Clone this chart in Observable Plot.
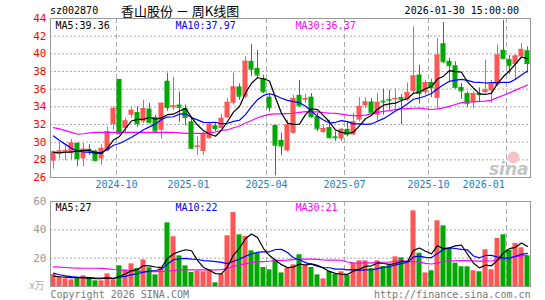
<!DOCTYPE html>
<html><head><meta charset="utf-8">
<script src="https://cdn.jsdelivr.net/npm/d3@7"></script>
<script src="https://cdn.jsdelivr.net/npm/@observablehq/plot@0.6"></script>
<style>
body{margin:0;background:#fff;}
#wrap{position:relative;width:545px;height:300px;overflow:hidden;font-family:"DejaVu Sans Mono",monospace;color:#000;}
.t{position:absolute;white-space:nowrap;line-height:1;}
</style></head><body>
<div id="wrap">
  <div class="t" style="left:50px;top:6px;font-size:10px">sz002870</div>
  <div class="t" style="left:121px;top:4px;font-size:13px;font-family:'Noto Sans CJK SC'">香山股份 － 周K线图</div>
  <div class="t" style="right:26px;top:6px;font-size:10px">2026-01-30 15:00:00</div>
  <div id="price" style="position:absolute;left:0;top:0"></div>
  <div id="vol" style="position:absolute;left:0;top:195px"></div>
</div>
<script>
// ---- data (weekly bars, oldest first) ----
const open = [27.85,28.6,28.8,28.7,29.85,28.1,29.2,29.0,28.1,29.0,32.0,37.1,31.55,33.05,33.35,32.3,33.75,32.8,31.35,36.9,
  33.9,34.2,33.8,32.3,29.4,28.95,30.4,31.85,31.55,32.75,34.4,36.25,35.1,39.15,38.35,37.2,35.1,31.9,30.2,29.0,
  31.0,35.3,34.75,35.1,32.9,31.1,31.65,30.6,30.35,31.45,30.8,32.5,34.1,34.55,33.05,34.65,34.85,34.8,35.05,34.75,
  35.75,37.6,35.6,36.75,34.95,41.15,39.15,38.65,36.2,35.5,34.5,35.5,35.6,35.8,36.45,40.4,39.35,38.8,39.65,40.35];
const high = [29.0,29.95,29.6,30.3,29.95,29.85,29.7,29.1,29.7,31.7,34.0,37.1,32.7,33.9,34.0,34.75,34.4,33.05,34.45,37.8,
  37.35,35.65,34.2,32.7,30.6,31.15,32.2,32.1,33.15,34.95,37.8,36.6,39.65,41.05,40.4,37.6,35.5,31.9,31.0,32.5,
  35.3,37.0,35.4,35.5,33.25,31.85,32.5,31.2,31.55,32.3,33.25,35.05,35.0,34.95,35.5,36.0,35.9,36.0,35.4,36.7,
  43.05,38.7,37.0,37.1,41.75,43.55,39.5,39.1,36.65,35.7,35.7,36.15,39.3,37.0,41.0,43.8,39.8,39.9,41.15,40.8];
const low = [26.95,28.1,27.9,28.0,27.2,27.2,28.5,27.8,27.4,28.9,31.35,30.8,31.0,32.7,31.7,32.1,32.1,31.0,30.35,33.5,
  33.6,32.25,31.85,29.2,28.5,28.5,30.3,31.15,31.5,32.7,34.2,34.75,34.95,37.4,37.2,35.5,33.4,26.2,28.5,28.9,
  30.9,34.0,34.4,32.7,31.2,30.95,30.35,30.1,30.05,30.6,30.8,32.3,33.8,33.2,32.3,33.05,33.6,33.6,32.0,34.6,
  35.4,34.3,35.3,35.05,33.75,38.9,36.8,36.0,34.85,33.9,33.8,34.45,35.5,34.4,36.25,39.4,37.65,37.1,39.5,37.8];
const close = [28.9,29.0,29.05,29.9,28.15,29.2,29.0,27.9,29.3,31.2,33.8,31.0,32.4,33.6,32.1,33.8,32.2,31.25,34.4,33.9,
  34.1,33.95,32.8,29.3,29.55,30.95,32.0,31.55,32.7,34.5,36.25,35.2,39.15,38.25,37.6,35.7,33.9,29.65,29.55,32.0,
  34.95,34.1,34.95,32.9,31.5,31.55,30.5,30.5,31.45,30.9,32.3,34.05,34.55,33.3,34.5,34.55,34.75,34.95,34.85,35.6,
  37.5,35.5,36.75,36.15,39.85,39.1,38.65,36.2,35.8,34.4,35.5,35.4,35.9,36.55,39.85,39.45,38.65,39.75,40.5,38.9];
// volume, 万手
const vol = [8.5,6.8,5.4,4.7,5.9,7.5,5.9,4.0,4.0,8.9,4.7,14.6,11.8,16.0,12.7,18.8,13.2,8.2,13.6,44.9,
  35.1,21.6,14.6,9.9,10.8,10.4,11.8,2.6,8.7,35.8,52.2,36.5,35.3,25.2,23.5,13.4,11.8,18.8,9.6,13.2,
  15.3,22.4,15.3,13.4,8.2,5.4,10.6,8.7,10.4,8.0,16.2,18.1,18.1,12.7,18.1,14.1,15.1,20.9,20.2,17.9,
  53.4,23.5,9.6,11.1,46.4,42.8,26.8,16.5,13.9,13.9,11.1,10.4,25.9,11.8,33.9,36.5,25.6,30.4,27.3,21.6];
// moving-average values before enough in-window history exists
const ma5Head = [28.85,28.8,28.85,28.9];
const ma10Head = [30.7,30.2,29.75,29.3,29.0,28.9,28.85,28.75,28.85];
const ma30Head = [31.65,31.5,31.3,31.1,30.9,30.95,31.05,31.1,31.1,31.1,31.1,31.1,31.1,31.1,31.1,31.1,31.1,31.1,31.1,31.1,
  31.1,31.05,31.0,31.0,31.0,31.0,31.05,31.15,31.35];
const vma5Head = [7.3,6.9,6.6,6.3];
const vma10Head = [9.4,8.3,7.5,7.0,6.6,6.4,6.2,6.0,5.9];
const vma30Head = [13.9,13.7,13.4,13.1,13.0,12.9,12.9,12.9,12.8,12.5,12.0,11.8,11.3,10.9,10.7,10.5,10.4,10.5,10.6,10.8,
  11.3,11.8,11.8,11.8,11.8,11.8,11.8,11.8,11.9];
// header values
const priceMaLabels = ["MA5:39.36","MA10:37.97","MA30:36.37"];
const volMaLabels = ["MA5:27","MA10:22","MA30:21"];
// x axis: month labels at bar-index positions, dashed month lines
const monthLabels = ["2024-10","2025-01","2025-04","2025-07","2025-10","2026-01"];
const monthLabelPos = [10.5,22.5,35.5,48.5,62.5,71.7];
const monthLinePos = [10.5,35.5,48.5,62.5,75.5];
const priceTicks = [26,28,30,32,34,36,38,40,42,44];
const priceGrid = [28,30,32,34,36,38,40,42];
const volTicks = [20,40,60];
const volGrid = [20,40];

// ---- build ----
const RED = "#ff5555", GREEN = "#00a800", MAG = "#ff00ff", BLUE = "#0000ff";
const n = close.length;
const bars = d3.range(n).map(i => ({i, o: open[i], h: high[i], l: low[i], c: close[i], v: vol[i], up: close[i] >= open[i]}));
function ma(arr, k, head) {
  return arr.map((_, i) => ({i, v: i < k - 1 ? head[i] : d3.mean(arr.slice(i - k + 1, i + 1))}));
}
const ma5 = ma(close, 5, ma5Head), ma10 = ma(close, 10, ma10Head), ma30 = ma(close, 30, ma30Head);
const vma5 = ma(vol, 5, vma5Head), vma10 = ma(vol, 10, vma10Head), vma30 = ma(vol, 30, vma30Head);
const months = monthLabels.map((label, k) => ({label, pos: monthLabelPos[k]}));
const halfW = 0.42;
const font = {fontFamily: "DejaVu Sans Mono", fontSize: "10px", background: "transparent", overflow: "visible"};

const price = Plot.plot({
  width: 545, height: 195, marginLeft: 50, marginRight: 15, marginTop: 18, marginBottom: 18,
  style: font,
  x: {domain: [-0.5, n - 0.5], axis: null},
  y: {domain: [26, 44], axis: null},
  color: {type: "identity"},
  marks: [
    Plot.ruleY(priceGrid, {stroke: "#aaa", strokeDasharray: "2,2"}),
    Plot.ruleX(monthLinePos, {stroke: "#aaa", strokeDasharray: "5,3"}),
    Plot.dot([0], {frameAnchor: "bottom-right", dx: -17, dy: -20, r: 6, fill: "#f6c4c4", stroke: "none"}),
    Plot.text(["sina"], {frameAnchor: "bottom-right", textAnchor: "end", lineAnchor: "bottom", dx: -2, dy: -3,
      fontSize: 17, fontStyle: "italic", fontWeight: "bold", fill: "#c4c4c4", fontFamily: "DejaVu Sans"}),
    Plot.ruleX(bars, {x: "i", y1: "l", y2: "h", stroke: d => d.up ? RED : GREEN, strokeWidth: 1}),
    Plot.rect(bars, {x1: d => d.i - halfW, x2: d => d.i + halfW, y1: d => Math.min(d.o, d.c), y2: d => Math.max(d.o, d.c), fill: d => d.up ? RED : GREEN}),
    Plot.ruleY(bars, {x1: d => d.i - halfW, x2: d => d.i + halfW, y: "c", stroke: d => d.up ? RED : GREEN}),
    Plot.line(ma30, {x: "i", y: "v", stroke: MAG, strokeWidth: 1.2}),
    Plot.line(ma10, {x: "i", y: "v", stroke: BLUE, strokeWidth: 1.2}),
    Plot.line(ma5, {x: "i", y: "v", stroke: "#000", strokeWidth: 1.2}),
    Plot.axisY({ticks: priceTicks, tickSize: 0, tickPadding: 4, color: "red", label: null, fontSize: 11}),
    Plot.text(months, {x: "pos", text: "label", frameAnchor: "bottom", dy: 10, fill: "#1a80c8"}),
    Plot.frame({stroke: "#999"}),
    Plot.text([priceMaLabels[0]], {frameAnchor: "top-left", textAnchor: "start", lineAnchor: "middle", dx: 5, dy: 7, fill: "#000"}),
    Plot.text([priceMaLabels[1]], {frameAnchor: "top-left", textAnchor: "start", lineAnchor: "middle", dx: 125, dy: 7, fill: BLUE}),
    Plot.text([priceMaLabels[2]], {frameAnchor: "top-left", textAnchor: "start", lineAnchor: "middle", dx: 245, dy: 7, fill: MAG})
  ]
});
document.getElementById("price").appendChild(price);

const volume = Plot.plot({
  width: 545, height: 105, marginLeft: 50, marginRight: 15, marginTop: 6, marginBottom: 14,
  style: font,
  x: {domain: [-0.5, n - 0.5], axis: null},
  y: {domain: [0, 60], axis: null},
  color: {type: "identity"},
  marks: [
    Plot.ruleY(volGrid, {stroke: "#aaa", strokeDasharray: "2,2"}),
    Plot.ruleX(monthLinePos, {stroke: "#aaa", strokeDasharray: "5,3"}),
    Plot.rectY(bars, {x1: d => d.i - halfW, x2: d => d.i + halfW, y: "v", fill: d => d.up ? RED : GREEN}),
    Plot.line(vma30, {x: "i", y: "v", stroke: MAG, strokeWidth: 1.2}),
    Plot.line(vma10, {x: "i", y: "v", stroke: BLUE, strokeWidth: 1.2}),
    Plot.line(vma5, {x: "i", y: "v", stroke: "#000", strokeWidth: 1.2}),
    Plot.axisY({ticks: volTicks, tickSize: 0, tickPadding: 4, color: "#999", label: null, fontSize: 11}),
    Plot.text(["x万"], {frameAnchor: "bottom-left", textAnchor: "end", lineAnchor: "middle", dx: -6, dy: -1, fill: "#aaa", fontFamily: "Noto Sans CJK SC"}),
    Plot.frame({stroke: "#999"}),
    Plot.text([volMaLabels[0]], {frameAnchor: "top-left", textAnchor: "start", lineAnchor: "middle", dx: 5, dy: 6, fill: "#000"}),
    Plot.text([volMaLabels[1]], {frameAnchor: "top-left", textAnchor: "start", lineAnchor: "middle", dx: 125, dy: 6, fill: BLUE}),
    Plot.text([volMaLabels[2]], {frameAnchor: "top-left", textAnchor: "start", lineAnchor: "middle", dx: 245, dy: 6, fill: MAG}),
    Plot.text(["Copyright 2026 SINA.COM"], {frameAnchor: "bottom-left", textAnchor: "start", lineAnchor: "middle", dy: 8, fill: "#777"}),
    Plot.text(["http://finance.sina.com.cn"], {frameAnchor: "bottom-right", textAnchor: "end", lineAnchor: "middle", dy: 8, fill: "#777"})
  ]
});
document.getElementById("vol").appendChild(volume);
</script>
</body></html>
